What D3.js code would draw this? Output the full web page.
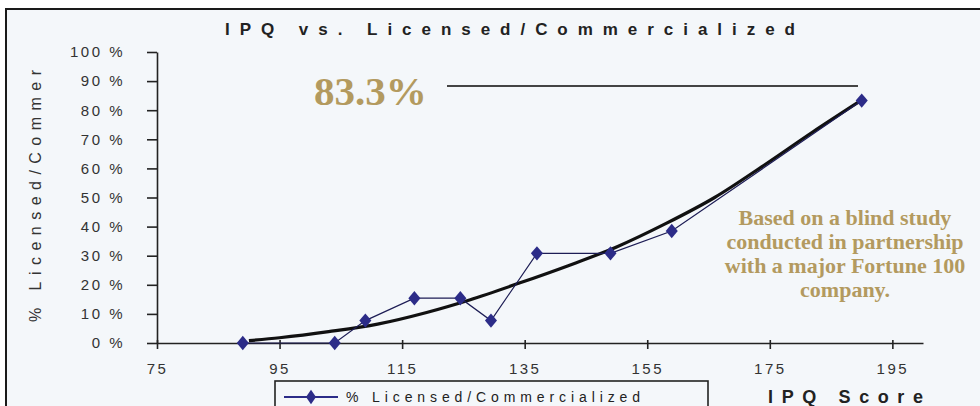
<!DOCTYPE html>
<html>
<head>
<meta charset="utf-8">
<script src="https://cdnjs.cloudflare.com/ajax/libs/d3/7.8.5/d3.min.js"></script>
<style>
  body { margin: 0; background: #ffffff; }
  svg { display: block; }
</style>
</head>
<body>
<script>
// global variables
var w = 980;
var h = 406;

var chartPad = {
  left: 157,
  right: 923,
  top: 52,
  bottom: 343
};

// data
var ipqScores = [89, 104, 109, 117, 124.5, 129.5, 137, 149, 159, 190];
var pctLicensed = [0, 0, 7.7, 15.4, 15.4, 7.7, 30.8, 30.8, 38.5, 83.3];

// trend line (polynomial fit in the original)
var trendScores = [90, 95, 103, 111, 119, 126, 134, 142, 150, 158, 166, 174, 182, 190];
var trendPct = [0.8, 1.8, 3.9, 6.5, 10.5, 14.8, 20.5, 26.5, 33, 41, 50, 61, 72.5, 83.5];

var xTicks = [75, 95, 115, 135, 155, 175, 195];
var yTicks = [0, 10, 20, 30, 40, 50, 60, 70, 80, 90, 100];

var noteLines = ["Based on a blind study", "conducted in partnership",
                 "with a major Fortune 100", "company."];

var gold = "#b39a5f";
var navy = "#2c2c88";

var svg = d3.select("body")
            .append("svg")
            .attr("width", w)
            .attr("height", h);

// background + frame
svg.append("rect")
   .attr("x", 6)
   .attr("y", 9)
   .attr("width", w)
   .attr("height", h)
   .attr("fill", "#f4f7fa")
   .attr("stroke", "#1a1a1a")
   .attr("stroke-width", 2);

var xScale = d3.scaleLinear()
               .domain([75, 200])
               .range([chartPad.left, chartPad.right]);

var yScale = d3.scaleLinear()
               .domain([0, 100])
               .range([chartPad.bottom, chartPad.top]);

// x axis
var xAxis = d3.axisBottom(xScale)
              .tickValues(xTicks)
              .tickSizeInner(6)
              .tickSizeOuter(0)
              .tickPadding(14);

var gx = svg.append("g")
   .attr("transform", "translate(0," + chartPad.bottom + ")")
   .call(xAxis);

gx.selectAll(".tick line")
  .attr("y1", -3);

// y axis
var yAxis = d3.axisLeft(yScale)
              .tickValues(yTicks)
              .tickSizeInner(10)
              .tickSizeOuter(0)
              .tickPadding(22)
              .tickFormat(function(d) { return d + " %"; });

var gy = svg.append("g")
   .attr("transform", "translate(" + chartPad.left + ",0)")
   .call(yAxis);

svg.selectAll(".domain, .tick line")
   .attr("stroke", "#222")
   .attr("stroke-width", 1.6);

svg.selectAll(".tick text")
   .attr("fill", "#333")
   .style("font-family", "'Liberation Sans', Arial, sans-serif")
   .style("font-size", "15px")
   .style("letter-spacing", "2.5px");

// title
svg.append("text")
   .attr("x", 225)
   .attr("y", 35)
   .attr("textLength", 570)
   .attr("lengthAdjust", "spacing")
   .style("font-family", "'Liberation Sans', Arial, sans-serif")
   .style("font-weight", "bold")
   .style("font-size", "17px")
   .attr("fill", "#222")
   .text("IPQ vs. Licensed/Commercialized");

// y label
svg.append("text")
   .attr("transform", "translate(41,322) rotate(-90)")
   .attr("textLength", 252)
   .attr("lengthAdjust", "spacing")
   .style("font-family", "'Liberation Sans', Arial, sans-serif")
   .style("font-size", "16px")
   .attr("fill", "#333")
   .text("% Licensed/Commer");

// x label
svg.append("text")
   .attr("x", 768)
   .attr("y", 403)
   .attr("textLength", 155)
   .attr("lengthAdjust", "spacing")
   .style("font-family", "'Liberation Sans', Arial, sans-serif")
   .style("font-weight", "bold")
   .style("font-size", "18px")
   .attr("fill", "#222")
   .text("IPQ Score");

// trend line
var trendData = trendScores.map(function(d, i) {
  return [d, trendPct[i]];
});

var line = d3.line()
             .x(function(d) { return xScale(d[0]); })
             .y(function(d) { return yScale(d[1]); });

svg.append("path")
   .datum(trendData)
   .attr("d", line.curve(d3.curveMonotoneX))
   .attr("fill", "none")
   .attr("stroke", "#111")
   .attr("stroke-width", 3.2);

// data series
var seriesData = ipqScores.map(function(d, i) {
  return [d, pctLicensed[i]];
});

svg.append("path")
   .datum(seriesData)
   .attr("d", line.curve(d3.curveLinear))
   .attr("fill", "none")
   .attr("stroke", "#1d1d55")
   .attr("stroke-width", 1.2);

var diamond = d3.symbol().type(d3.symbolDiamond).size(60);

svg.selectAll(".pt")
   .data(seriesData)
   .enter()
   .append("path")
   .attr("class", "pt")
   .attr("d", diamond)
   .attr("transform", function(d) {
     return "translate(" + xScale(d[0]) + "," + yScale(d[1]) + ") scale(1.45,1)";
   })
   .attr("fill", navy);

// 83.3% callout
svg.append("text")
   .attr("x", 314)
   .attr("y", 105)
   .style("font-family", "'Liberation Serif', 'Times New Roman', serif")
   .style("font-weight", "bold")
   .style("font-size", "41px")
   .attr("fill", gold)
   .text("83.3%");

svg.append("line")
   .attr("x1", 447)
   .attr("x2", 858)
   .attr("y1", 86)
   .attr("y2", 86)
   .attr("stroke", "#444")
   .attr("stroke-width", 1.8);

// note
svg.selectAll(".note")
   .data(noteLines)
   .enter()
   .append("text")
   .attr("class", "note")
   .attr("x", 845)
   .attr("y", function(d, i) { return 225 + i * 24; })
   .attr("text-anchor", "middle")
   .style("font-family", "'Liberation Serif', 'Times New Roman', serif")
   .style("font-weight", "bold")
   .style("font-size", "22px")
   .attr("fill", gold)
   .text(function(d) { return d; });

// legend
var legend = svg.append("g");

legend.append("rect")
      .attr("x", 275)
      .attr("y", 381)
      .attr("width", 433)
      .attr("height", 40)
      .attr("fill", "#f4f7fa")
      .attr("stroke", "#222")
      .attr("stroke-width", 1.6);

legend.append("line")
      .attr("x1", 284)
      .attr("x2", 338)
      .attr("y1", 397)
      .attr("y2", 397)
      .attr("stroke", navy)
      .attr("stroke-width", 2);

legend.append("path")
      .attr("d", diamond)
      .attr("transform", "translate(311,397) scale(1.2,1)")
      .attr("fill", navy);

legend.append("text")
      .attr("x", 346)
      .attr("y", 402)
      .attr("textLength", 294)
      .attr("lengthAdjust", "spacing")
      .style("font-family", "'Liberation Sans', Arial, sans-serif")
      .style("font-size", "14px")
      .attr("fill", "#222")
      .text("% Licensed/Commercialized");
</script>
</body>
</html>
